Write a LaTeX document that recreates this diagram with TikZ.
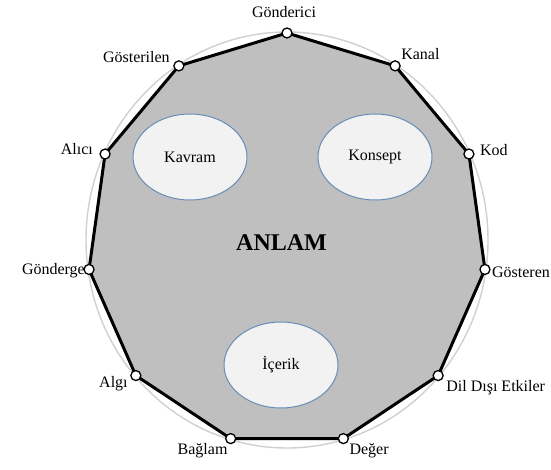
\documentclass[tikz,border=0pt]{standalone}
\usepackage{fontspec}
\setmainfont{Liberation Serif}
\usetikzlibrary{positioning,shapes.geometric}
\definecolor{ringgray}{RGB}{208,208,208}
\definecolor{polygray}{RGB}{191,191,191}
\definecolor{bubblefill}{RGB}{242,242,242}
\definecolor{bubbleedge}{RGB}{104,140,184}
\tikzset{
  tag/.style={inner sep=0pt,font=\fontsize{16}{19}\selectfont},
  corner/.style={circle,draw,fill=white,line width=1.3pt,inner sep=0pt,minimum size=10pt},
  bubble/.style={ellipse,draw=bubbleedge,fill=bubblefill,line width=1pt,
    minimum width=114pt,minimum height=86pt,font=\fontsize{16}{19}\selectfont}
}

\begin{document}
\begin{tikzpicture}[x=1pt,y=1pt]
        \useasboundingbox (0,0) rectangle (551,469);
        \draw[ringgray,line width=1.4pt] (287,229) ellipse (201 and 208);
        \foreach \i in {0,...,10}
          \coordinate (v\i) at ({287+200*cos(90-\i*360/11)},{229+207*sin(90-\i*360/11)});
        \filldraw[fill=polygray,line width=3pt,line join=round]
          (v0) \foreach \i in {1,...,10}{ -- (v\i)} -- cycle;
        \foreach \i in {0,...,10} \node[corner] (c\i) at (v\i) {};
        % inner bubbles
        \node[bubble] (kavram) at (190,312) {Kavram};
        \node[bubble] (konsept) at (375,312) {Konsept};
        \node[bubble] (icerik) at (281,104) {İçerik};
        \node[font=\fontsize{24}{28}\selectfont\bfseries] (anlam) at (281.5,226) {ANLAM};
        % vertex labels
        \node[tag,anchor=base] (gonderici) at ([shift={(-3,15)}]v0) {Gönderici};
        \node[tag,anchor=base west] (kanal) at ([shift={(6,6)}]v1) {Kanal};
        \node[tag,anchor=base west] (kod) at ([shift={(11,-1)}]v2) {Kod};
        \node[tag,anchor=base west] (gosteren) at ([shift={(7,-8)}]v3) {Gösteren};
        \node[tag,anchor=base west] (dildisi) at ([shift={(8,-16)}]v4) {Dil Dışı Etkiler};
        \node[tag,anchor=base west] (deger) at ([shift={(6,-16)}]v5) {Değer};
        \node[tag,anchor=base east] (baglam) at ([shift={(-3,-16)}]v6) {Bağlam};
        \node[tag,anchor=base east] (algi) at ([shift={(-8,-12)}]v7) {Algı};
        \node[tag,anchor=base east] (gonderge) at ([shift={(-4,-5)}]v8) {Gönderge};
        \node[tag,anchor=base east] (alici) at ([shift={(-12,0)}]v9) {Alıcı};
        \node[tag,anchor=base east] (gosterilen) at ([shift={(-9,3)}]v10) {Gösterilen};
      \end{tikzpicture}
\end{document}
